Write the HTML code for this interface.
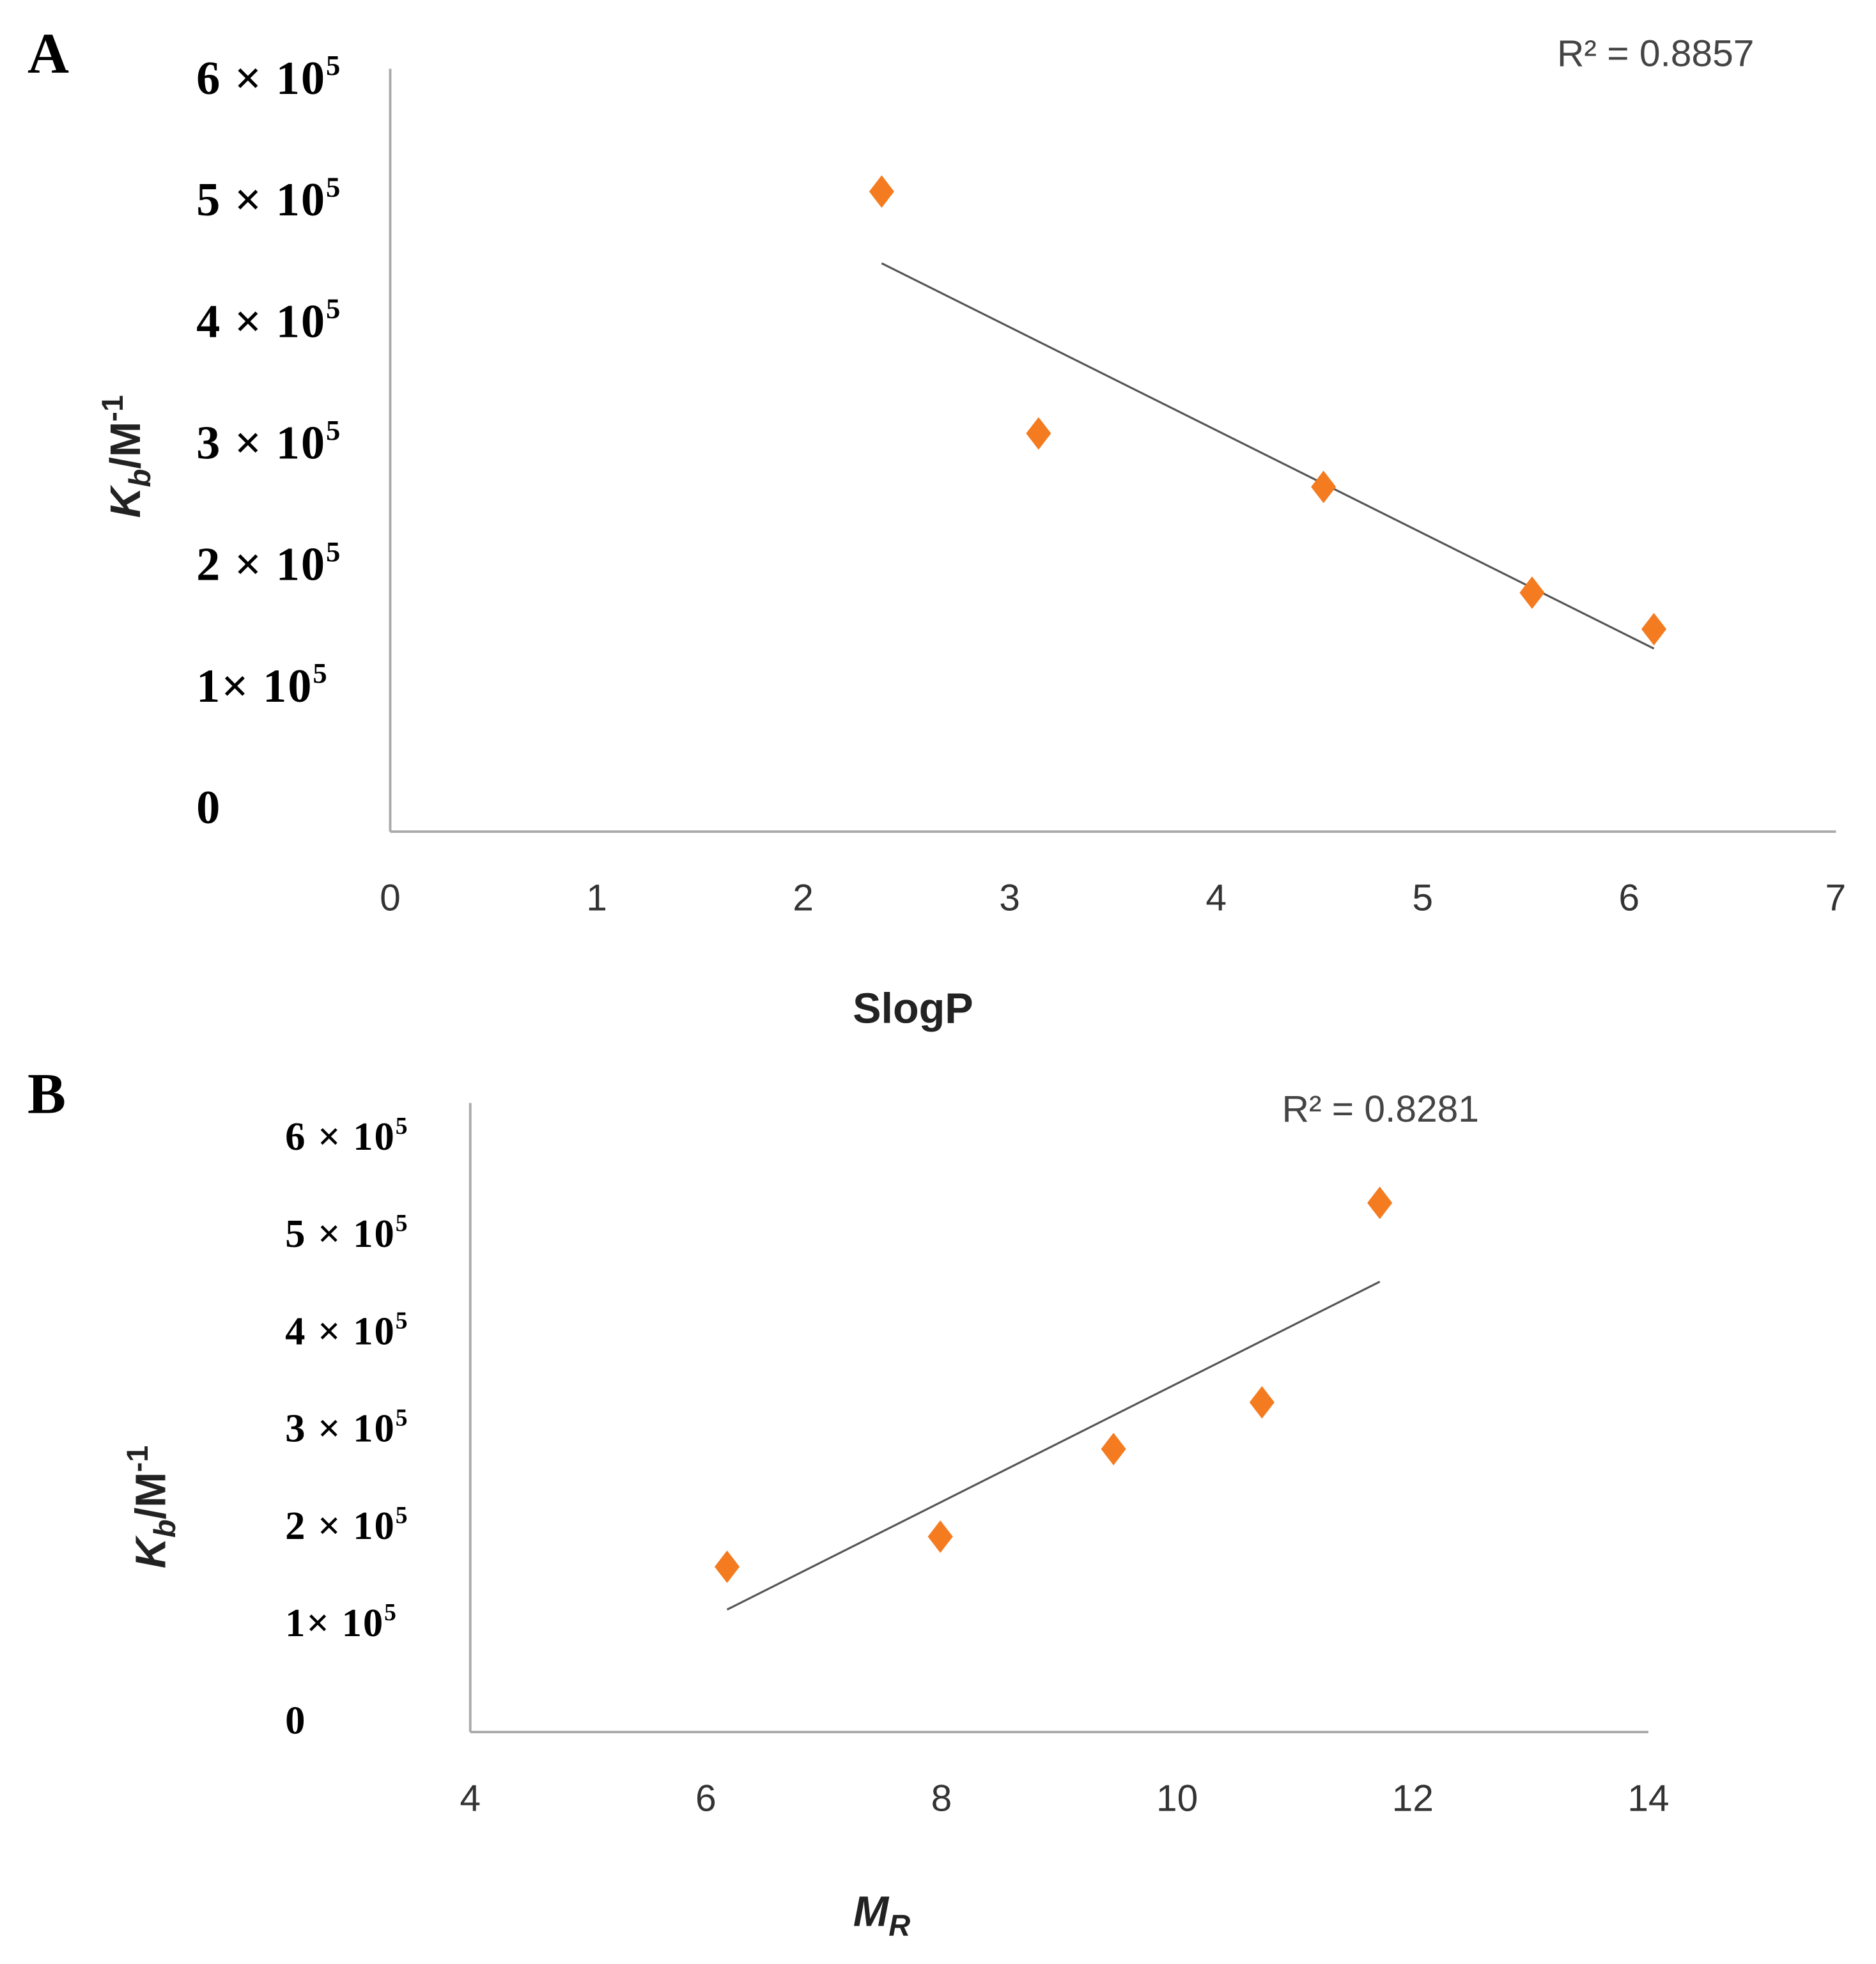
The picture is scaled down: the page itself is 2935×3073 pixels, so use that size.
<!DOCTYPE html>
<html><head><meta charset="utf-8"><style>
html,body{margin:0;padding:0;background:#fff;}
svg{display:block;}
.yt{font-family:"Liberation Serif",serif;font-weight:bold;fill:#000;letter-spacing:1px;}
.xt{font-family:"Liberation Sans",sans-serif;fill:#333;font-size:30px;text-anchor:middle;}
.r2{font-family:"Liberation Sans",sans-serif;fill:#444;font-size:30px;}
.pl{font-family:"Liberation Serif",serif;font-weight:bold;font-size:46px;fill:#000;}
.at{font-family:"Liberation Sans",sans-serif;font-weight:bold;font-size:34px;fill:#222;}
</style></head><body>
<svg id="chart" width="2935" height="3073" viewBox="0 0 1500 1570.5" preserveAspectRatio="none" xmlns="http://www.w3.org/2000/svg">
<text class="pl" x="22" y="58">A</text>
<text class="pl" x="22" y="890">B</text>
<g id="pa"></g>
<g id="pb"></g>
</svg>
<script>
// Chart A data
const aX = [2.38, 3.14, 4.52, 5.53, 6.12];
const aY = [5.06, 3.07, 2.63, 1.76, 1.46];
const aTrendX = [2.38, 6.12];
const aTrendY = [4.47, 1.30];
const aXTicks = [0, 1, 2, 3, 4, 5, 6, 7];
const aYTicks = [0, 1, 2, 3, 4, 5, 6];
const aR2 = "R² = 0.8857";
// Chart B data
const bX = [6.18, 7.99, 9.46, 10.72, 11.72];
const bY = [1.57, 1.88, 2.78, 3.26, 5.31];
const bTrendX = [6.18, 11.72];
const bTrendY = [1.13, 4.50];
const bXTicks = [4, 6, 8, 10, 12, 14];
const bYTicks = [0, 1, 2, 3, 4, 5, 6];
const bR2 = "R² = 0.8281";

const NS = "http://www.w3.org/2000/svg";
function mk(parent, tag, attrs, text) {
  const e = document.createElementNS(NS, tag);
  for (const k in attrs) e.setAttribute(k, attrs[k]);
  if (text !== undefined) e.textContent = text;
  parent.appendChild(e);
  return e;
}
function draw(g, cfg) {
  const sx = v => cfg.x0 + (v - cfg.xmin) * cfg.xs;
  const sy = v => cfg.ylab0 - v * cfg.ys;
  let e = mk(g, "line", {x1: cfg.x0, y1: cfg.ytop, x2: cfg.x0, y2: cfg.y0, stroke: "#aaa", "stroke-width": 2});
  
  
  e = mk(g, "line", {x1: cfg.x0, y1: cfg.y0, x2: cfg.xend, y2: cfg.y0, stroke: "#aaa", "stroke-width": 2});
  
  
  cfg.xt.forEach(v => {
    const t = mk(g, "text", {class: "xt", x: sx(v), y: cfg.y0 + 63}, String(v));
    
    
  });
  cfg.yt.forEach(v => {
    const t = mk(g, "text", {class: "yt", x: cfg.ylx, y: sy(v) + cfg.yfs * 0.35, "font-size": cfg.yfs});
    
    
    if (v === 0) { t.textContent = "0"; return; }
    t.textContent = v + (v === 1 ? "× 10" : " × 10");
    mk(t, "tspan", {dy: -cfg.yfs * 0.4, "font-size": cfg.yfs * 0.6}, "5");
  });
  e = mk(g, "line", {x1: sx(cfg.tx[0]), y1: sy(cfg.ty[0]), x2: sx(cfg.tx[1]), y2: sy(cfg.ty[1]), stroke: "#555", "stroke-width": 1.6});
  
  
  cfg.px.forEach((xv, i) => {
    const cx = sx(xv), cy = sy(cfg.py[i]);
    const p = mk(g, "polygon", {points: `${cx},${cy-13} ${cx+10},${cy} ${cx},${cy+13} ${cx-10},${cy}`, fill: "#F47B20"});
    
    
  });
  let t = mk(g, "text", {class: "r2", x: cfg.r2x, y: cfg.r2y}, cfg.r2);
  
  
  t = mk(g, "text", {class: "at", x: cfg.xtx, y: cfg.xty, "text-anchor": "middle", "font-style": cfg.xtItal ? "italic" : "normal"});
  
  
  t.textContent = cfg.xtitle;
  if (cfg.xsub) mk(t, "tspan", {dy: 8, "font-size": 24}, cfg.xsub);
  t = mk(g, "text", {class: "at", transform: `translate(${cfg.ytx},${cfg.yty}) rotate(-90)`, "text-anchor": "middle"});
  
  
  mk(t, "tspan", {"font-style": "italic"}, "K");
  mk(t, "tspan", {"font-style": "italic", dy: 8, "font-size": 24}, "b");
  mk(t, "tspan", {dy: -8}, "/M");
  mk(t, "tspan", {dy: -14, "font-size": 24}, "-1");
}
draw(document.getElementById("pa"), {
  x0: 312, y0: 665, ytop: 55, xend: 1468, xmin: 0, xs: 165.1, ylab0: 645, ys: 97.2,
  xt: aXTicks, yt: aYTicks, ylx: 157, yfs: 38, px: aX, py: aY, tx: aTrendX, ty: aTrendY,
  r2: aR2, r2x: 1245, r2y: 53, xtitle: "SlogP", xtx: 730, xty: 818, ytx: 112, yty: 365
});
draw(document.getElementById("pb"), {
  x0: 376, y0: 1385, ytop: 882, xend: 1318, xmin: 4, xs: 94.2, ylab0: 1375, ys: 77.8,
  xt: bXTicks, yt: bYTicks, ylx: 228, yfs: 32, px: bX, py: bY, tx: bTrendX, ty: bTrendY,
  r2: bR2, r2x: 1025, r2y: 897, xtitle: "M", xsub: "R", xtItal: true, xtx: 705, xty: 1540, ytx: 132, yty: 1205
});
</script>
</body></html>
